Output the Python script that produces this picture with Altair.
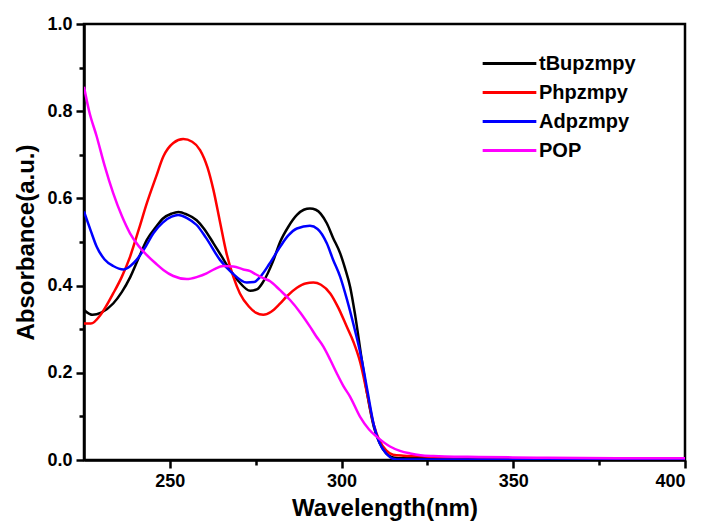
import altair as alt
import pandas as pd

series_names = ["tBupzmpy", "Phpzmpy", "Adpzmpy", "POP"]
series_colors = ["#000000", "#ff0000", "#0000ff", "#ff00ff"]

tbu_wl = [225, 227.5, 230, 233.5, 236, 238.5, 241, 243.3, 246, 248, 250.5, 252.5, 255, 257.8, 260, 262.7, 265,
          267.5, 270, 273.4, 275.5, 277.2, 280, 282.1, 284.5, 287, 289, 290.8, 292.5, 295.7, 297.5, 299.6, 301,
          302.5, 304, 305.9, 307.5, 309.4, 311, 313, 315, 318, 325, 335, 345, 350, 360, 400]
tbu_abs = [0.344, 0.333, 0.338, 0.359, 0.385, 0.42, 0.465, 0.505, 0.535, 0.554, 0.565, 0.569, 0.563, 0.55, 0.53,
           0.497, 0.468, 0.436, 0.41, 0.388, 0.392, 0.409, 0.455, 0.50, 0.535, 0.562, 0.574, 0.577, 0.574, 0.543,
           0.51, 0.474, 0.44, 0.397, 0.33, 0.229, 0.15, 0.076, 0.04, 0.015, 0.006, 0.004, 0.005, 0.004, 0.004,
           0.002, 0.001, 0.001]

ph_wl = [225, 227, 230, 233.5, 236, 238.4, 241, 243.3, 246, 248.1, 251, 253.9, 256.5, 258.8, 261, 262.7, 264.5,
         266.5, 268.5, 270.4, 273, 275, 277.2, 279.5, 282, 284, 287, 289.5, 291.8, 294, 296.7, 299, 301.5, 303.5,
         305.4, 307.5, 309.4, 311, 313, 315, 318, 322, 330, 340, 350, 360, 400]
ph_abs = [0.313, 0.313, 0.335, 0.382, 0.42, 0.466, 0.53, 0.589, 0.65, 0.696, 0.727, 0.736, 0.73, 0.711, 0.67,
          0.619, 0.55, 0.474, 0.42, 0.382, 0.352, 0.338, 0.333, 0.34, 0.358, 0.375, 0.395, 0.405, 0.407, 0.402,
          0.382, 0.35, 0.306, 0.27, 0.225, 0.15, 0.08, 0.045, 0.022, 0.012, 0.01, 0.009, 0.006, 0.005, 0.004,
          0.002, 0.001]

ad_wl = [225, 227, 228.7, 231, 233.5, 236.5, 238.5, 240.3, 243, 245.2, 248, 250.5, 252.4, 255, 257.8, 260.5,
         264.6, 268, 272.4, 274.5, 276.3, 279, 282.1, 284.5, 287, 290.8, 293, 295.7, 297.5, 299.6, 301.5, 303.4,
         305.9, 307.5, 309.4, 311, 313, 315, 317, 400]
ad_abs = [0.570, 0.525, 0.489, 0.46, 0.445, 0.437, 0.445, 0.459, 0.49, 0.52, 0.545, 0.558, 0.562, 0.555, 0.539,
          0.51, 0.459, 0.43, 0.407, 0.408, 0.42, 0.45, 0.489, 0.515, 0.531, 0.537, 0.53, 0.497, 0.46, 0.42, 0.37,
          0.313, 0.229, 0.16, 0.08, 0.04, 0.015, 0.003, 0.001, 0.001]

pop_wl = [225, 226.5, 228.7, 231, 233.5, 236, 238.4, 241, 243.3, 246, 248.1, 251, 254.9, 258, 260.7, 263, 265.6,
          268.5, 271.4, 273.4, 275, 277.2, 279.2, 282, 285, 288, 290.8, 292.5, 294.7, 296.7, 298.6, 300.5, 302.5,
          305.4, 308, 310.3, 314.1, 317, 320, 323, 326.7, 330, 340, 350, 360, 380, 400]
pop_abs = [0.856, 0.80, 0.742, 0.675, 0.612, 0.56, 0.52, 0.49, 0.47, 0.45, 0.436, 0.422, 0.415, 0.42, 0.428,
           0.438, 0.445, 0.444, 0.437, 0.433, 0.426, 0.417, 0.41, 0.39, 0.367, 0.338, 0.306, 0.285, 0.26, 0.23,
           0.199, 0.17, 0.145, 0.099, 0.07, 0.053, 0.031, 0.021, 0.015, 0.011, 0.009, 0.008, 0.007, 0.006, 0.005,
           0.004, 0.004]

x_ticks = [250, 275, 300, 325, 350, 375, 400]
y_ticks = [0.0, 0.1, 0.2, 0.3, 0.4, 0.5, 0.6, 0.7, 0.8, 0.9, 1.0]

rows = []
for name, wls, vals in [(series_names[0], tbu_wl, tbu_abs), (series_names[1], ph_wl, ph_abs),
                        (series_names[2], ad_wl, ad_abs), (series_names[3], pop_wl, pop_abs)]:
    for i, (w, a) in enumerate(zip(wls, vals)):
        rows.append({"series": name, "wl": w, "abs": a, "idx": i})
df = pd.DataFrame(rows)

FONT = "Liberation Sans"

chart = alt.Chart(df).mark_line(strokeWidth=2.5, interpolate="monotone", clip=True).encode(
    x=alt.X("wl:Q", title="Wavelength(nm)",
            scale=alt.Scale(domain=[225, 400], nice=False, zero=False),
            axis=alt.Axis(values=x_ticks,
                          labelExpr="datum.value % 50 == 0 ? datum.label : ''",
                          tickSize={"condition": {"test": "datum.value % 50 == 0", "value": 8}, "value": 5},
                          labelPadding=4, titlePadding=6)),
    y=alt.Y("abs:Q", title="Absorbance(a.u.)",
            scale=alt.Scale(domain=[0, 1], nice=False),
            axis=alt.Axis(values=y_ticks, format=".1f",
                          labelExpr="round(datum.value * 10) % 2 == 0 ? datum.label : ''",
                          tickSize={"condition": {"test": "round(datum.value * 10) % 2 == 0", "value": 8}, "value": 5},
                          labelPadding=4, titlePadding=8)),
    color=alt.Color("series:N", sort=series_names,
                    scale=alt.Scale(domain=series_names, range=series_colors),
                    legend=alt.Legend(title=None, orient="none", legendX=415, legendY=29,
                                      symbolType="M-3,0H3", symbolSize=320, symbolStrokeWidth=3,
                                      labelFontSize=20, labelFontWeight="bold", labelFont=FONT,
                                      labelColor="black", rowPadding=8, labelOffset=19, padding=0)),
    order=alt.Order("idx:Q"),
).properties(
    width=601, height=436,
    autosize=alt.AutoSizeParams(type="none"),
    padding={"left": 76, "top": 16, "right": 8, "bottom": 65},
).configure_view(
    stroke="black", strokeWidth=2.5
).configure_axis(
    grid=False, domainColor="black", domainWidth=2.5, tickColor="black", tickWidth=2.5,
    labelFont=FONT, labelFontSize=18, labelFontWeight="bold", labelColor="black",
    titleFont=FONT, titleFontSize=24, titleFontWeight="bold", titleColor="black",
)

chart.save("out.html", embed_options={"renderer": "svg", "actions": False})
